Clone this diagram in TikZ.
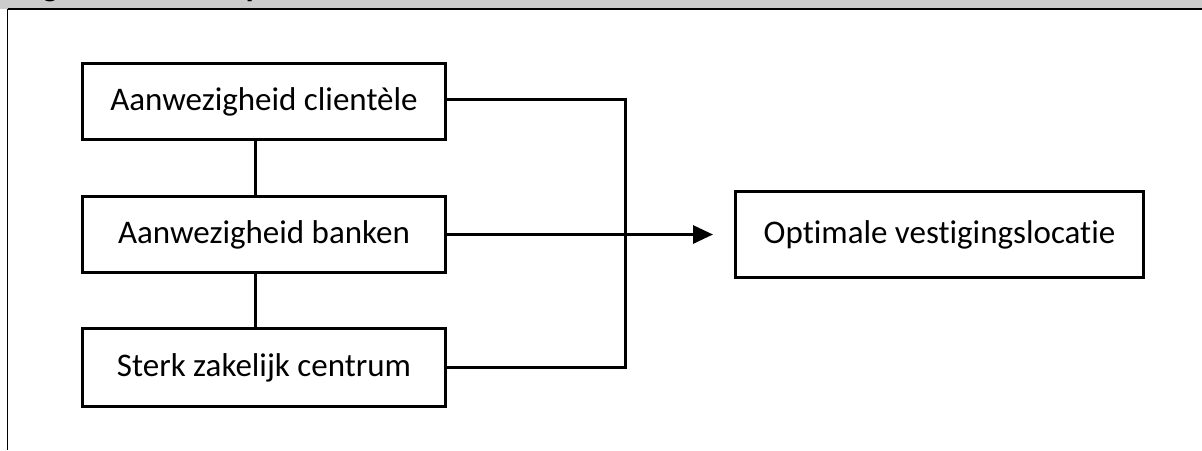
\documentclass[tikz,border=0pt]{standalone}
\usepackage{fontspec}
\setmainfont{Carlito}[Ligatures=NoCommon]
\newfontfamily\headfont{Liberation Sans}
\usetikzlibrary{arrows.meta}
\definecolor{headgrey}{HTML}{CCCCCC}
\tikzset{
  box/.style={draw=black, line width=1.5pt, minimum width=181.5pt, inner sep=0pt,
              font=\fontsize{16.5}{20}\selectfont, fill=white},
  link/.style={draw=black, line width=1.5pt},
}
\begin{document}
\begin{tikzpicture}[x=0.5pt,y=-0.5pt]
\useasboundingbox (0,0) rectangle (1202,450);
% header strip
\fill[headgrey] (0,0) rectangle (1202,9);
\begin{scope}
\clip (0,0) rectangle (1202,8.5);
\node[anchor=base west, inner sep=0pt, font=\headfont\bfseries\fontsize{15}{18}\selectfont] (hd) at (14,-4.5) {Figuur 1: Conceptueel model};
\end{scope}
\draw[black, line width=1pt] (7.5,9) -- (1202,9);
\draw[black, line width=0.7pt] (7.5,9) -- (7.5,450);
% boxes
\node[box, minimum height=38pt] (b1) at (264,101.5) {Aanwezigheid clientèle};
\node[box, minimum height=38pt] (b2) at (264,234.5) {Aanwezigheid banken};
\node[box, minimum height=39pt] (b3) at (264,367.5) {Sterk zakelijk centrum};
\node[box, minimum width=204pt, minimum height=43pt] (b4) at (939.5,234.5) {Optimale vestigingslocatie};
% vertical links
\draw[link] ([xshift=-4.5pt]b1.south) -- ([xshift=-4.5pt]b2.north);
\draw[link] ([xshift=-4.5pt]b2.south) -- ([xshift=-4.5pt]b3.north);
% right connectors
\coordinate (jx) at (625,236);
\draw[link] ([yshift=1pt]b1.east) -| (jx) |- (b3.east);
\draw[link, -{Triangle[length=10pt,width=9pt]}] (b2.east) -- ([xshift=-10.5pt]b4.west);
\end{tikzpicture}
\end{document}
